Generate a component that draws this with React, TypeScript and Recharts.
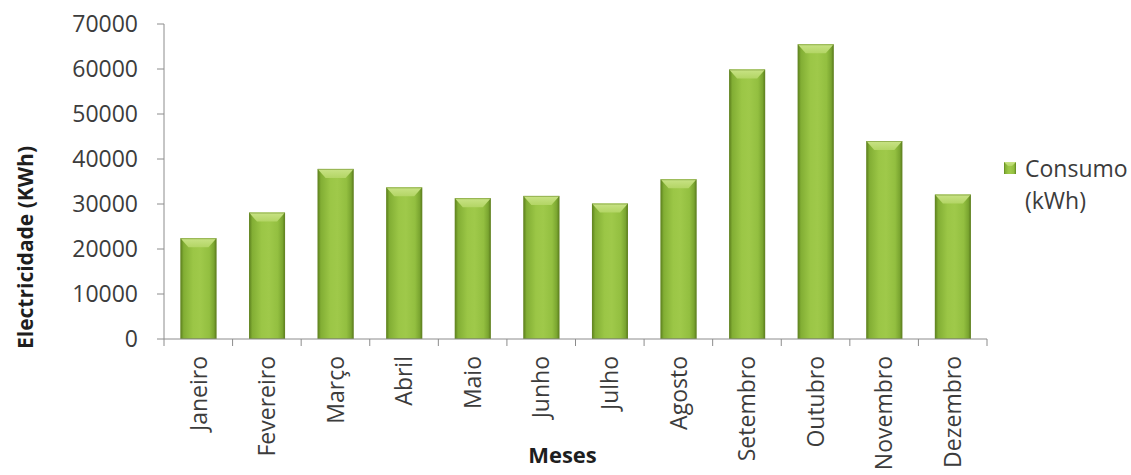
import { BarChart, Bar, XAxis, YAxis, Legend } from "recharts"

const months = [
  "Janeiro",
  "Fevereiro",
  "Março",
  "Abril",
  "Maio",
  "Junho",
  "Julho",
  "Agosto",
  "Setembro",
  "Outubro",
  "Novembro",
  "Dezembro",
]
const consumo = [22400, 28100, 37800, 33700, 31300, 31800, 30100, 35500, 59900, 65500, 44000, 32100]
const yTicks = [0, 10000, 20000, 30000, 40000, 50000, 60000, 70000]

const data = months.map((mes, i) => ({ mes, consumo: consumo[i] }))

const W = 1131
const H = 475
const M = { top: 24, right: 144, bottom: 0, left: 0 }
const Y_W = 164
const X_H = 136
const BAND = (W - M.left - M.right - Y_W) / months.length
const FONT = "'Open Sans', sans-serif"
const AXIS = "#8c8c8c"
const TEXT = "#3c3c3c"

function MonthTick(props: any) {
  const { x, y, payload, index } = props
  const half = payload?.offset || BAND / 2
  return (
    <g>
      <line x1={x - half} x2={x - half} y1={y} y2={y + 7} stroke={AXIS} />
      {index === months.length - 1 && (
        <line x1={x + half} x2={x + half} y1={y} y2={y + 7} stroke={AXIS} />
      )}
      <text
        transform={`translate(${x},${y + 17}) rotate(-90)`}
        textAnchor="end"
        dy="0.36em"
        fontFamily={FONT}
        fontSize={23}
        fill={TEXT}
      >
        {payload.value}
      </text>
    </g>
  )
}

function YTitle(props: any) {
  const vb = props.viewBox || { x: 0, y: 0, width: 0, height: 0 }
  return (
    <text
      transform={`translate(${vb.x + 25},${vb.y + vb.height / 2 + 66}) rotate(-90)`}
      textAnchor="middle"
      dominantBaseline="central"
      fontFamily={FONT}
      fontWeight="bold"
      fontSize={21}
      fill="#1e1e1e"
    >
      Electricidade (KWh)
    </text>
  )
}

function XTitle(props: any) {
  const vb = props.viewBox || { x: 0, y: 0, width: 0, height: 0 }
  return (
    <text
      x={vb.x + vb.width / 2 - 13}
      y={vb.y + 124}
      textAnchor="middle"
      fontFamily={FONT}
      fontWeight="bold"
      fontSize={22}
      fill="#1e1e1e"
    >
      Meses
    </text>
  )
}

function BevelBar(props: any) {
  const { x, y, width, height } = props
  if (!height || height <= 0) return null
  const b = Math.min(9, height)
  return (
    <g>
      <rect x={x} y={y} width={width} height={height} fill="url(#barBody)" />
      <polygon
        points={`${x},${y} ${x + width},${y} ${x + width - 8},${y + b} ${x + 8},${y + b}`}
        fill="url(#barTop)"
      />
      <rect x={x + 0.5} y={y + 0.5} width={width - 1} height={height - 1} fill="none" stroke="#6b8c28" strokeOpacity={0.55} />
    </g>
  )
}

function LegendBox() {
  return (
    <div style={{ fontFamily: FONT, fontSize: 23, color: TEXT, lineHeight: "32px", display: "flex", whiteSpace: "nowrap" }}>
      <svg width={12} height={12} style={{ marginTop: 10, marginRight: 9, flex: "none" }}>
        <rect x={0} y={0} width={12} height={12} fill="url(#barBody)" />
        <polygon points="0,0 12,0 8,4 4,4" fill="url(#barTop)" />
      </svg>
      <div>
        <div>Consumo</div>
        <div>(kWh)</div>
      </div>
    </div>
  )
}

export default function App() {
  return (
    <div style={{ width: W, height: H, background: "#fff" }}>
      <style>{`body{margin:0}`}</style>
      <BarChart width={W} height={H} data={data} margin={M} barCategoryGap="24%">
        <defs>
          <linearGradient id="barBody" x1="0" y1="0" x2="1" y2="0">
            <stop offset="0%" stopColor="#5a7e1c" />
            <stop offset="9%" stopColor="#82ae34" />
            <stop offset="35%" stopColor="#9bc646" />
            <stop offset="55%" stopColor="#9fc94a" />
            <stop offset="80%" stopColor="#93bf40" />
            <stop offset="93%" stopColor="#7aa530" />
            <stop offset="100%" stopColor="#56771b" />
          </linearGradient>
          <linearGradient id="barTop" x1="0" y1="0" x2="0" y2="1">
            <stop offset="0%" stopColor="#c9e386" />
            <stop offset="100%" stopColor="#b3d565" />
          </linearGradient>
        </defs>
        <XAxis
          dataKey="mes"
          interval={0}
          height={X_H}
          stroke={AXIS}
          tickLine={false}
          tickSize={0}
          tickMargin={0}
          tick={<MonthTick />}
          label={<XTitle />}
        />
        <YAxis
          domain={[0, 70000]}
          ticks={yTicks}
          width={Y_W}
          stroke={AXIS}
          tickSize={7}
          tickMargin={19}
          tick={{ fontFamily: FONT, fontSize: 23, fill: TEXT }}
          label={<YTitle />}
        />
        <Legend
          content={<LegendBox />}
          wrapperStyle={{ position: "absolute", left: 1004, top: 152, width: 0, height: 0, overflow: "visible" }}
        />
        <Bar dataKey="consumo" shape={<BevelBar />} isAnimationActive={false} />
      </BarChart>
    </div>
  )
}
